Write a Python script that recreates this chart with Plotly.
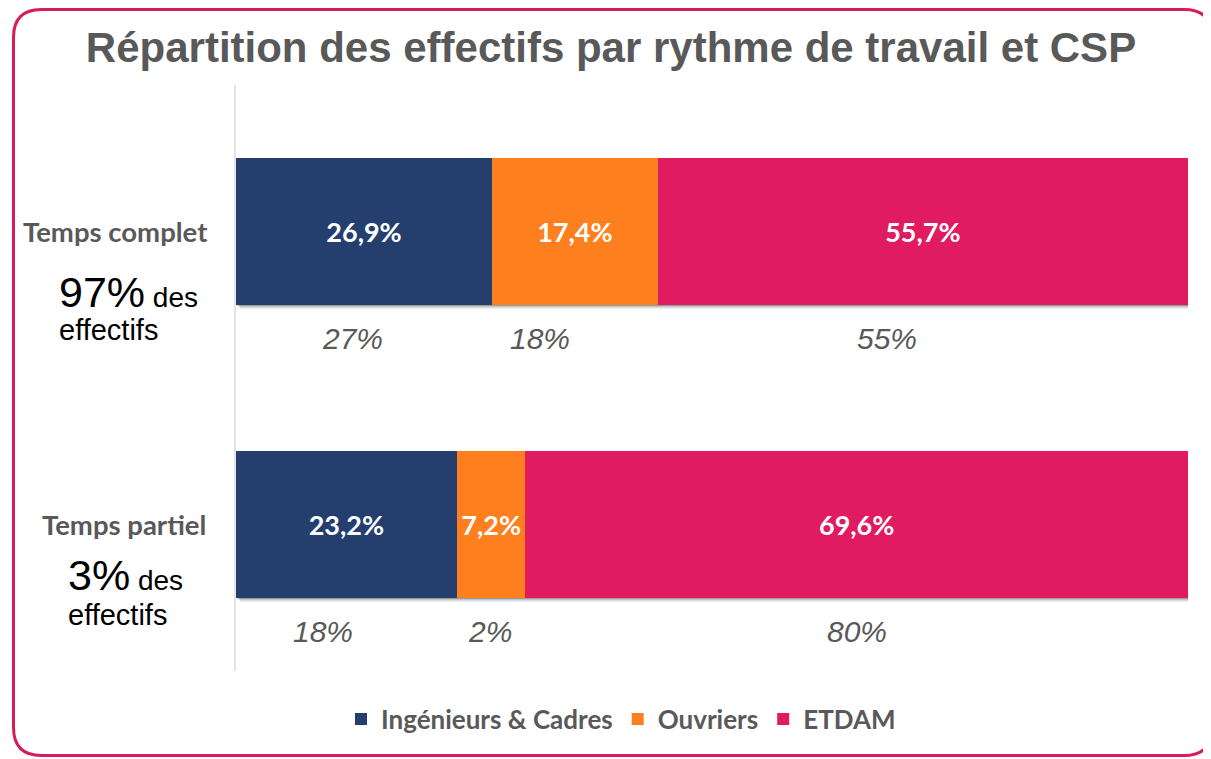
import plotly.graph_objects as go

# ---- data ----
categories = ["Temps complet", "Temps partiel"]
series_names = ["Ingénieurs & Cadres", "Ouvriers", "ETDAM"]
ic_values = [26.9, 23.2]
ouv_values = [17.4, 7.2]
etdam_values = [55.7, 69.6]
share_of_staff = ["97%", "3%"]
comparison_labels = [["27%", "18%", "55%"], ["18%", "2%", "80%"]]

colors = ["#243F6E", "#FD7F1D", "#E01B5F"]
GRAY = "#595959"
OFF = 8  # page body margin
W, H = 1211 - OFF, 759 - OFF
# plot area in page (screenshot) pixels
L, R, T, B = 236, 1188, 85, 671


def px_x(p):
    return (p - L) / (R - L)


def px_y(p):
    return (B - p) / (B - T)


def fmt(v):
    return f"{v:.1f}".replace(".", ",") + "%"


fig = go.Figure()
for name, vals, col in zip(series_names, [ic_values, ouv_values, etdam_values], colors):
    fig.add_trace(go.Bar(
        y=categories, x=vals, name=name, orientation="h",
        marker=dict(color=col, line=dict(width=0)),
        text=[fmt(v) for v in vals], textposition="inside",
        insidetextanchor="middle", constraintext="none",
        textfont=dict(family="Lato", size=27, color="white", weight="bold"),
        hoverinfo="skip",
    ))

annotations = []
# comparison labels (italic gray under the bars)
cmp_x = [[352, 540, 887], [323, 490, 857]]
cmp_y = [338, 631]
for i, labels in enumerate(comparison_labels):
    for lab, xp in zip(labels, cmp_x[i]):
        annotations.append(dict(
            x=px_x(xp), y=px_y(cmp_y[i]), xref="paper", yref="paper",
            text=lab, showarrow=False, xanchor="center", yanchor="middle",
            font=dict(family="Liberation Sans", size=30, color=GRAY, style="italic"),
        ))

# left side category labels
cat_pos = [(115, 232), (124, 524)]
share_pos = [(57, 292, 330), (66, 575, 615)]
for i, cat in enumerate(categories):
    annotations.append(dict(
        x=px_x(cat_pos[i][0]), y=px_y(cat_pos[i][1]), xref="paper", yref="paper",
        text=cat, showarrow=False, xanchor="center", yanchor="middle",
        font=dict(family="Lato", size=27.5, color=GRAY, weight="bold"),
    ))
    xs, y1, y2 = share_pos[i]
    annotations.append(dict(
        x=px_x(xs), y=px_y(y1), xref="paper", yref="paper",
        text=f"<span style='font-size:43px'>{share_of_staff[i]}</span> des",
        showarrow=False, xanchor="left", yanchor="middle",
        font=dict(family="Liberation Sans", size=28, color="black"),
    ))
    annotations.append(dict(
        x=px_x(xs), y=px_y(y2), xref="paper", yref="paper",
        text="effectifs", showarrow=False, xanchor="left", yanchor="middle",
        font=dict(family="Liberation Sans", size=29, color="black"),
    ))

# rounded border
bx0, by0, bx1, by1, r = 13.5, 9.5, 1212, 755.5, 28
def P(x, y):
    return f"{px_x(x):.5f},{px_y(y):.5f}"
path = (f"M {P(bx0 + r, by0)} L {P(bx1 - r, by0)} Q {P(bx1, by0)} {P(bx1, by0 + r)} "
        f"L {P(bx1, by1 - r)} Q {P(bx1, by1)} {P(bx1 - r, by1)} "
        f"L {P(bx0 + r, by1)} Q {P(bx0, by1)} {P(bx0, by1 - r)} "
        f"L {P(bx0, by0 + r)} Q {P(bx0, by0)} {P(bx0 + r, by0)} Z")
shapes = [dict(type="path", path=path, xref="paper", yref="paper",
               line=dict(color="#D81B5E", width=3), layer="above")]

# soft drop shadows under the bars
dx = 3.0 / (R - L) * 100
for i in range(len(categories)):
    for k, (off, op) in enumerate([(4, 0.10), (2.5, 0.15), (1.2, 0.2)]):
        shapes.append(dict(
            type="rect", xref="x", yref="y", layer="below",
            x0=dx * off / 3, x1=100 + dx * off / 3,
            y0=i - 0.25 + off / 293.5, y1=i + 0.25 + off / 293.5,
            fillcolor="black", opacity=op, line=dict(width=0),
        ))

fig.update_layout(
    width=W, height=H,
    barmode="stack", bargap=0.5,
    margin=dict(l=L - OFF, r=(1211 - R), t=T - OFF, b=H - (B - OFF)),
    paper_bgcolor="white", plot_bgcolor="white",
    title=dict(text="<b>Répartition des effectifs par rythme de travail et CSP</b>",
               x=(611 - OFF) / W, xanchor="center", y=1 - (47 - OFF) / H, yanchor="middle",
               xref="container", yref="container",
               font=dict(family="Liberation Sans", size=42, color=GRAY)),
    xaxis=dict(range=[0, 100], visible=False, fixedrange=True),
    yaxis=dict(autorange="reversed", showticklabels=False, showgrid=False,
               showline=True, linecolor="#E3E3E3", linewidth=1.5, ticks="",
               zeroline=False),
    showlegend=True,
    legend=dict(orientation="h", x=px_x(621), xanchor="center", y=px_y(719),
                yanchor="middle", font=dict(family="Lato", size=26, color=GRAY, weight="bold"),
                traceorder="normal", itemclick=False, itemdoubleclick=False),
    annotations=annotations,
    shapes=shapes,
)

fig.write_html("out.html")
